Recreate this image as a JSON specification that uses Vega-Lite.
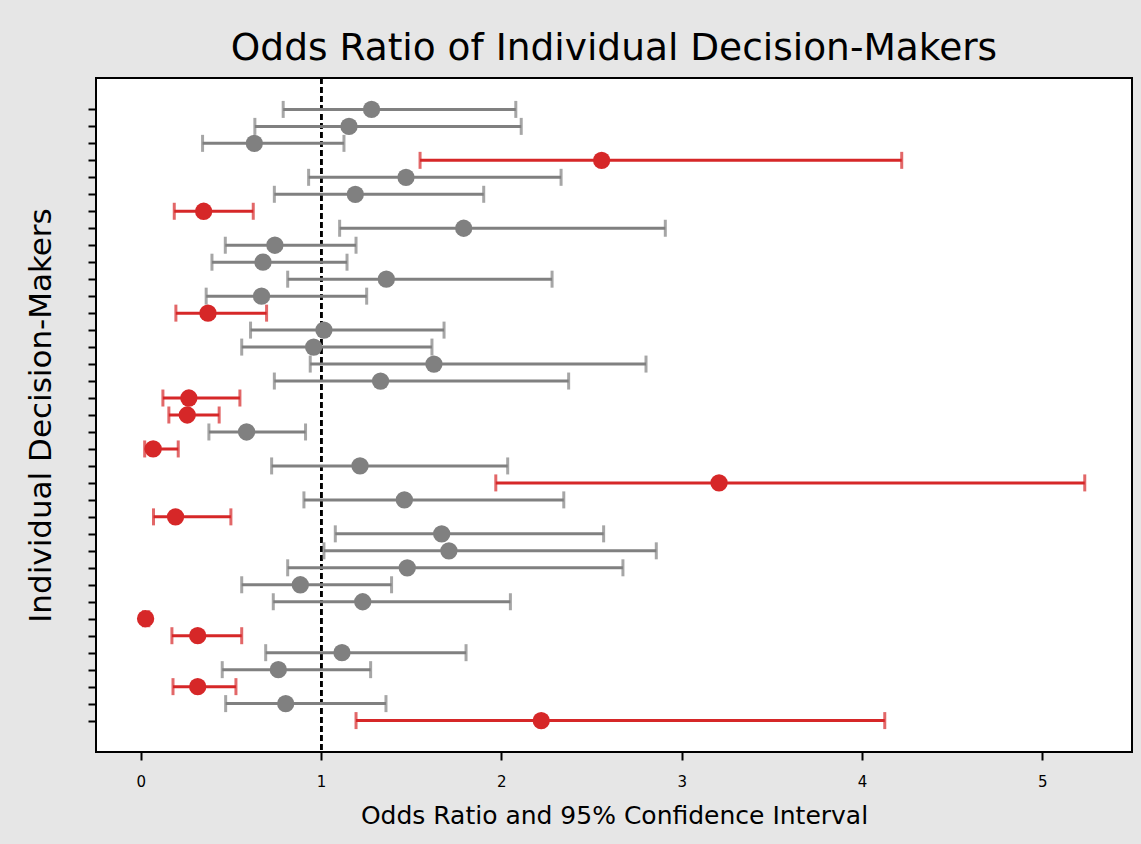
{
  "$schema": "https://vega.github.io/schema/vega-lite/v6.json",
  "autosize": {"type": "none"},
  "padding": {"left": 96, "top": 78, "right": 9, "bottom": 92},
  "width": 1036,
  "height": 674,
  "background": "#e6e6e6",
  "title": {
    "text": "Odds Ratio of Individual Decision-Makers",
    "font": "DejaVu Sans",
    "fontSize": 37.5,
    "fontWeight": "normal",
    "color": "#000000",
    "anchor": "middle",
    "offset": 10
  },
  "config": {
    "view": {"stroke": "#000000", "strokeWidth": 2, "fill": "#ffffff"},
    "axis": {"grid": false, "domain": false, "tickColor": "#000000", "tickWidth": 2, "tickSize": 8, "labelFont": "DejaVu Sans", "titleFont": "DejaVu Sans", "labelColor": "#000000", "titleColor": "#000000", "titleFontWeight": "normal"}
  },
  "data": {
    "values": [
      {"r": 0, "or": 1.28, "lo": 0.79, "hi": 2.08, "sig": "no"},
      {"r": 1, "or": 1.155, "lo": 0.633, "hi": 2.11, "sig": "no"},
      {"r": 2, "or": 0.63, "lo": 0.343, "hi": 1.127, "sig": "no"},
      {"r": 3, "or": 2.556, "lo": 1.549, "hi": 4.22, "sig": "yes"},
      {"r": 4, "or": 1.471, "lo": 0.931, "hi": 2.331, "sig": "no"},
      {"r": 5, "or": 1.19, "lo": 0.741, "hi": 1.902, "sig": "no"},
      {"r": 6, "or": 0.349, "lo": 0.186, "hi": 0.624, "sig": "yes"},
      {"r": 7, "or": 1.791, "lo": 1.103, "hi": 2.909, "sig": "no"},
      {"r": 8, "or": 0.744, "lo": 0.469, "hi": 1.194, "sig": "no"},
      {"r": 9, "or": 0.678, "lo": 0.395, "hi": 1.144, "sig": "no"},
      {"r": 10, "or": 1.362, "lo": 0.815, "hi": 2.281, "sig": "no"},
      {"r": 11, "or": 0.67, "lo": 0.363, "hi": 1.253, "sig": "no"},
      {"r": 12, "or": 0.373, "lo": 0.195, "hi": 0.698, "sig": "yes"},
      {"r": 13, "or": 1.016, "lo": 0.609, "hi": 1.682, "sig": "no"},
      {"r": 14, "or": 0.959, "lo": 0.56, "hi": 1.615, "sig": "no"},
      {"r": 15, "or": 1.626, "lo": 0.94, "hi": 2.802, "sig": "no"},
      {"r": 16, "or": 1.33, "lo": 0.741, "hi": 2.373, "sig": "no"},
      {"r": 17, "or": 0.267, "lo": 0.123, "hi": 0.55, "sig": "yes"},
      {"r": 18, "or": 0.258, "lo": 0.156, "hi": 0.435, "sig": "yes"},
      {"r": 19, "or": 0.587, "lo": 0.378, "hi": 0.914, "sig": "no"},
      {"r": 20, "or": 0.069, "lo": 0.022, "hi": 0.208, "sig": "yes"},
      {"r": 21, "or": 1.216, "lo": 0.726, "hi": 2.035, "sig": "no"},
      {"r": 22, "or": 3.207, "lo": 1.969, "hi": 5.235, "sig": "yes"},
      {"r": 23, "or": 1.462, "lo": 0.905, "hi": 2.346, "sig": "no"},
      {"r": 24, "or": 0.193, "lo": 0.071, "hi": 0.5, "sig": "yes"},
      {"r": 25, "or": 1.669, "lo": 1.079, "hi": 2.567, "sig": "no"},
      {"r": 26, "or": 1.709, "lo": 1.016, "hi": 2.859, "sig": "no"},
      {"r": 27, "or": 1.478, "lo": 0.815, "hi": 2.674, "sig": "no"},
      {"r": 28, "or": 0.885, "lo": 0.56, "hi": 1.391, "sig": "no"},
      {"r": 29, "or": 1.231, "lo": 0.735, "hi": 2.05, "sig": "no"},
      {"r": 30, "or": 0.027, "lo": 0.015, "hi": 0.045, "sig": "yes"},
      {"r": 31, "or": 0.316, "lo": 0.173, "hi": 0.56, "sig": "yes"},
      {"r": 32, "or": 1.116, "lo": 0.693, "hi": 1.804, "sig": "no"},
      {"r": 33, "or": 0.763, "lo": 0.452, "hi": 1.275, "sig": "no"},
      {"r": 34, "or": 0.316, "lo": 0.179, "hi": 0.528, "sig": "yes"},
      {"r": 35, "or": 0.804, "lo": 0.471, "hi": 1.36, "sig": "no"},
      {"r": 36, "or": 2.221, "lo": 1.194, "hi": 4.126, "sig": "yes"}
    ]
  },
  "encoding": {
    "y": {
      "field": "r",
      "type": "quantitative",
      "scale": {"domain": [-1.85, 37.85], "reverse": true, "nice": false, "zero": false},
      "axis": {
        "values": [0,1,2,3,4,5,6,7,8,9,10,11,12,13,14,15,16,17,18,19,20,21,22,23,24,25,26,27,28,29,30,31,32,33,34,35,36],
        "labels": false,
        "title": "Individual Decision-Makers",
        "titleFontSize": 31,
        "titlePadding": 30
      }
    },
    "color": {
      "field": "sig",
      "type": "nominal",
      "scale": {"domain": ["no", "yes"], "range": ["#808080", "#d62728"]},
      "legend": null
    }
  },
  "layer": [
    {
      "mark": {"type": "rule", "color": "#000000", "strokeWidth": 2, "strokeDash": [6, 3]},
      "encoding": {"x": {"datum": 1, "type": "quantitative"}, "y": null, "color": null}
    },
    {
      "mark": {"type": "rule", "strokeWidth": 3},
      "encoding": {
        "x": {
          "field": "lo",
          "type": "quantitative",
          "scale": {"domain": [-0.248, 5.497], "nice": false, "zero": false},
          "axis": {
            "values": [0, 1, 2, 3, 4, 5],
            "format": "d",
            "labelFontSize": 15,
            "labelPadding": 14,
            "title": "Odds Ratio and 95% Confidence Interval",
            "titleFontSize": 25,
            "titlePadding": 14
          }
        },
        "x2": {"field": "hi"}
      }
    },
    {
      "mark": {"type": "tick", "orient": "vertical", "size": 17, "thickness": 3},
      "encoding": {"x": {"field": "lo", "type": "quantitative"}}
    },
    {
      "mark": {"type": "tick", "orient": "vertical", "size": 17, "thickness": 3},
      "encoding": {"x": {"field": "hi", "type": "quantitative"}}
    },
    {
      "mark": {"type": "circle", "size": 300, "opacity": 1},
      "encoding": {"x": {"field": "or", "type": "quantitative"}}
    }
  ]
}
